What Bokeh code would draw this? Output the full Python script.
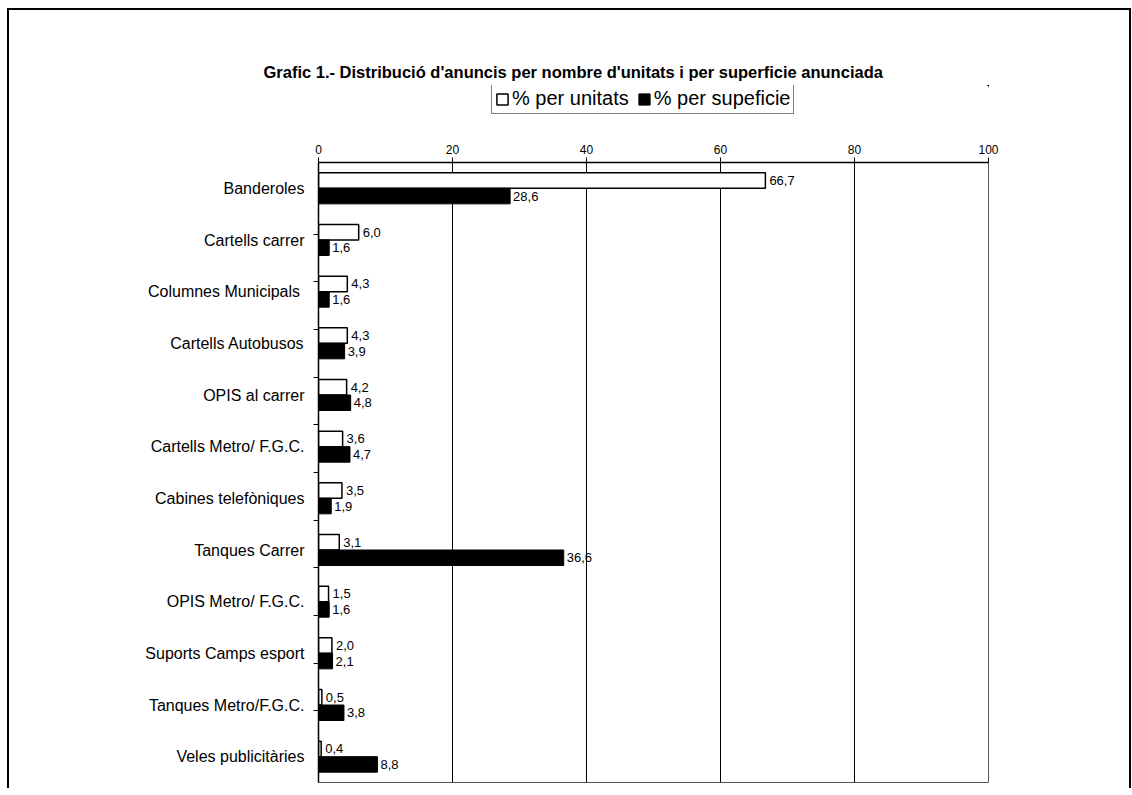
from bokeh.plotting import figure
from bokeh.layouts import column
from bokeh.models import (FactorRange, Range1d, ColumnDataSource, CategoricalAxis,
                          FixedTicker, Legend, LegendItem, CategoricalScale)
from bokeh.transform import dodge
from bokeh.core.properties import value
from bokeh.embed import file_html
from bokeh.resources import INLINE

# ---------------- data ----------------
categories = ["Banderoles", "Cartells carrer", "Columnes  Municipals", "Cartells Autobusos",
              "OPIS al carrer", "Cartells Metro/ F.G.C.", "Cabines telefòniques", "Tanques Carrer",
              "OPIS Metro/ F.G.C.", "Suports Camps esport", "Tanques Metro/F.G.C.",
              "Veles publicitàries"]
per_unitats = [66.7, 6.0, 4.3, 4.3, 4.2, 3.6, 3.5, 3.1, 1.5, 2.0, 0.5, 0.4]
per_superficie = [28.6, 1.6, 1.6, 3.9, 4.8, 4.7, 1.9, 36.6, 1.6, 2.1, 3.8, 8.8]
x_ticks = [0, 20, 40, 60, 80, 100]
title_text = "Grafic 1.- Distribució d'anuncis per nombre d'unitats i per superficie anunciada"
legend_labels = ["% per unitats", "% per supeficie"]

FONT = "Liberation Sans"


def fmt(v):
    return f"{v:.1f}".replace(".", ",")


src = ColumnDataSource(dict(
    cat=categories,
    unit=per_unitats,
    sup=per_superficie,
    unit_lbl=[fmt(v) for v in per_unitats],
    sup_lbl=[fmt(v) for v in per_superficie],
))

W = 1120
TH = 122          # header (title + legend) height
BH = 656          # chart height
TOP, BOTTOM, LEFT, RIGHT = 30, 6, 309, 141

# ---------------- header: title + legend ----------------
head = figure(width=W, height=TH, output_backend="svg", toolbar_location=None,
              x_range=Range1d(-100, -99), y_range=Range1d(-100, -99),
              x_axis_location=None, y_axis_location=None,
              min_border_left=LEFT, min_border_right=RIGHT,
              min_border_top=75, min_border_bottom=0)
head.outline_line_color = None
head.grid.visible = False
head.background_fill_color = "white"
head.border_fill_color = "white"

head.title.text = title_text
head.title.align = "left"
head.title.offset = -55
head.title.standoff = 10
head.title.text_font = FONT
head.title.text_font_size = "16.5px"
head.title.text_font_style = "bold"
head.title.text_color = "black"

# legend swatch renderers (their marks fall far outside the header's ranges)
h1 = head.hbar(y="sup", left="sup", right="sup", height=0.01, fill_color="white",
               line_color="black", line_width=1.5, source=src)
h2 = head.hbar(y="sup", left="sup", right="sup", height=0.01, fill_color="black",
               line_color="black", line_width=1, source=src)
legend = Legend(items=[LegendItem(label=legend_labels[0], renderers=[h1]),
                       LegendItem(label=legend_labels[1], renderers=[h2])],
                orientation="horizontal", location=(173, 18),
                border_line_color="black", border_line_width=1,
                background_fill_color="white", background_fill_alpha=1,
                padding=3, spacing=8, margin=0, label_standoff=3,
                glyph_width=14, glyph_height=14,
                label_text_font=FONT, label_text_font_size="20px",
                label_text_color="black", label_height=20)
head.add_layout(legend, "center")

# ---------------- chart ----------------
p = figure(width=W, height=BH, output_backend="svg", toolbar_location=None,
           y_range=FactorRange(factors=categories[::-1]),
           x_range=Range1d(x_ticks[0], x_ticks[-1]),
           x_axis_location="above", y_axis_location=None,
           min_border_left=LEFT, min_border_right=RIGHT,
           min_border_top=TOP, min_border_bottom=BOTTOM)
p.background_fill_color = "white"
p.border_fill_color = "white"
p.outline_line_color = "#555555"
p.outline_line_width = 1

# x axis (top)
xa = p.xaxis[0]
xa.ticker = FixedTicker(ticks=x_ticks)
xa.major_label_text_font = FONT
xa.major_label_text_font_size = "12px"
xa.major_label_text_color = "black"
xa.major_label_standoff = 4
xa.major_tick_out = 5
xa.major_tick_in = 0
xa.minor_tick_line_color = None
xa.axis_line_color = "black"
xa.axis_line_width = 1.5
xa.major_tick_line_color = "black"

p.xgrid.ticker = FixedTicker(ticks=x_ticks)
p.xgrid.grid_line_color = "black"
p.xgrid.grid_line_width = 1
p.ygrid.visible = False

# y axes: separator ticks between categories + category labels
# a hidden factor range whose factor centres fall on the category boundaries
bounds = [f"b{i}" for i in range(1, len(categories))]
p.extra_y_ranges = {"bounds": FactorRange(factors=bounds, range_padding=1.0,
                                          range_padding_units="absolute")}
p.extra_y_scales = {"bounds": CategoricalScale()}
bax = CategoricalAxis(y_range_name="bounds",
                      major_label_text_font_size="1px", major_label_text_color=None,
                      major_label_standoff=0,
                      major_tick_out=5, major_tick_in=0, minor_tick_line_color=None,
                      axis_line_color="black", axis_line_width=1.5,
                      major_tick_line_color="black")
p.add_layout(bax, "left")
cax = CategoricalAxis(major_tick_line_color=None, axis_line_color=None,
                      minor_tick_line_color=None,
                      major_label_text_font=FONT, major_label_text_font_size="16px",
                      major_label_text_color="black", major_label_standoff=3)
p.add_layout(cax, "left")

# bars
r1 = p.hbar(y=dodge("cat", 0.15, range=p.y_range), right="unit", left=0, height=0.3,
            fill_color="white", line_color="black", line_width=1.5, source=src)
r2 = p.hbar(y=dodge("cat", -0.15, range=p.y_range), right="sup", left=0, height=0.3,
            fill_color="black", line_color="black", line_width=1, source=src)

# value labels
p.text(x="unit", y=dodge("cat", 0.15, range=p.y_range), text="unit_lbl", x_offset=4,
       text_baseline="middle", text_align="left", text_font=value(FONT),
       text_font_size="13px", text_color="black", source=src)
p.text(x="sup", y=dodge("cat", -0.15, range=p.y_range), text="sup_lbl", x_offset=3,
       text_baseline="middle", text_align="left", text_font=value(FONT),
       text_font_size="13px", text_color="black", source=src)

page = column(head, p, spacing=0)
page.styles = {"border-left": "2px solid black", "border-top": "2px solid black",
               "border-right": "2px solid black", "margin-left": "7px", "margin-top": "8px"}

open("out.html", "w").write(file_html(page, INLINE))
